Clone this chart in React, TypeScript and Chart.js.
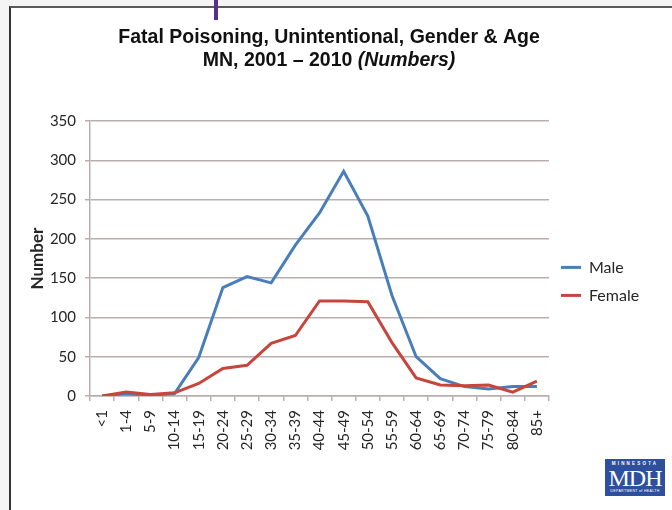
import React, { useEffect, useRef } from 'react';
import { Chart, registerables } from 'chart.js';

Chart.register(...registerables);

const ageGroups = ['<1', '1-4', '5-9', '10-14', '15-19', '20-24', '25-29', '30-34', '35-39', '40-44', '45-49', '50-54', '55-59', '60-64', '65-69', '70-74', '75-79', '80-84', '85+'];
const maleDeaths = [0, 3, 1, 3, 49, 138, 152, 144, 192, 233, 286, 229, 128, 50, 22, 12, 9, 12, 12];
const femaleDeaths = [0, 5, 2, 4, 16, 35, 39, 67, 77, 121, 121, 120, 68, 23, 14, 13, 14, 5, 19];
const yTickValues = [0, 50, 100, 150, 200, 250, 300, 350];

const titleLine1 = 'Fatal Poisoning, Unintentional, Gender & Age';
const titleLine2Plain = 'MN, 2001 \u2013 2010 ';
const titleLine2Italic = '(Numbers)';
const yAxisTitle = 'Number';
const seriesNames = ['Male', 'Female'];

const BLUE = '#4a7ebb';
const RED = '#c8453d';
const GRID = '#b9adad';
const TEXT = '#262626';
const LABEL_FONT = 'Lato, "Open Sans", sans-serif';

const mixedTitlePlugin = {
  id: 'mixedTitle',
  afterDraw(chart: any) {
    const ctx = chart.ctx;
    ctx.save();
    ctx.fillStyle = '#111111';
    ctx.textBaseline = 'middle';
    const cx = 318;
    const plain = 'bold 19.5px "Liberation Sans", Arial, sans-serif';
    const ital = 'italic bold 19.5px "Liberation Sans", Arial, sans-serif';
    ctx.font = plain;
    ctx.textAlign = 'center';
    ctx.fillText(titleLine1, cx, 29);
    const wA = ctx.measureText(titleLine2Plain).width;
    ctx.font = ital;
    const wB = ctx.measureText(titleLine2Italic).width;
    const start = cx - (wA + wB) / 2;
    ctx.textAlign = 'left';
    ctx.font = plain;
    ctx.fillText(titleLine2Plain, start, 52);
    ctx.font = ital;
    ctx.fillText(titleLine2Italic, start + wA, 52);
    ctx.restore();
  },
};

function PoisonChart() {
  const ref = useRef<HTMLCanvasElement | null>(null);
  useEffect(() => {
    let chart: Chart | null = null;
    let cancelled = false;
    const build = () => {
      if (cancelled || !ref.current) return;
      chart = new Chart(ref.current, {
        type: 'line',
        data: {
          labels: ageGroups,
          datasets: [
            { label: seriesNames[0], data: maleDeaths, borderColor: BLUE, backgroundColor: BLUE, borderWidth: 3, pointRadius: 0, tension: 0, order: 1 },
            { label: seriesNames[1], data: femaleDeaths, borderColor: RED, backgroundColor: RED, borderWidth: 3, pointRadius: 0, tension: 0, order: 0 },
          ],
        },
        options: {
          responsive: false,
          animation: false,
          devicePixelRatio: 1,
          layout: { padding: { top: 112, left: 0, right: 1, bottom: 0 } },
          plugins: {
            title: { display: false },
            tooltip: { enabled: false },
            legend: {
              position: 'right',
              align: 'start',
              maxWidth: 98,
              title: { display: true, text: '', padding: { top: 60, bottom: 52 }, font: { size: 12 } },
              labels: {
                usePointStyle: true,
                pointStyle: 'line',
                pointStyleWidth: 20,
                padding: 12,
                color: TEXT,
                font: { family: LABEL_FONT, size: 16 },
                sort: (a: any, b: any) => a.datasetIndex - b.datasetIndex,
              },
            },
          },
          scales: {
            x: {
              type: 'category',
              offset: true,
              grid: { display: true, drawOnChartArea: false, drawTicks: true, tickLength: 5, color: GRID, lineWidth: 1.5, offset: true },
              border: { display: true, color: GRID, width: 1.5 },
              ticks: { minRotation: 90, maxRotation: 90, autoSkip: false, padding: 9, color: TEXT, font: { family: LABEL_FONT, size: 15 } },
              afterFit: (s: any) => { s.height = 114; },
            },
            y: {
              min: 0,
              max: 350,
              grid: { color: GRID, lineWidth: 1.5, tickLength: 5 },
              border: { display: true, color: GRID, width: 1.5 },
              ticks: { padding: 9, color: TEXT, font: { family: LABEL_FONT, size: 15 } },
              afterBuildTicks: (s: any) => { s.ticks = yTickValues.map((v) => ({ value: v })); },
              title: { display: true, text: yAxisTitle, color: TEXT, font: { family: LABEL_FONT, size: 17, weight: 'bold' }, padding: { top: 16, bottom: 0 } },
              afterFit: (s: any) => { s.width = 79; },
            },
          },
        },
        plugins: [mixedTitlePlugin],
      } as any);
    };
    const fontsReady = (document as any).fonts
      ? Promise.all([
          (document as any).fonts.load('15px Lato'),
          (document as any).fonts.load('bold 17px Lato'),
          (document as any).fonts.load('bold 19.5px "Liberation Sans"'),
          (document as any).fonts.load('italic bold 19.5px "Liberation Sans"'),
        ]).catch(() => null)
      : Promise.resolve(null);
    fontsReady.then(build);
    return () => {
      cancelled = true;
      if (chart) chart.destroy();
    };
  }, []);
  return (
    <canvas
      ref={ref}
      width={637}
      height={501}
      style={{ position: 'absolute', left: 11, top: 9, width: 637, height: 501 }}
    />
  );
}

export default function App() {
  return (
    <div style={{ position: 'fixed', left: 0, top: 0, width: 672, height: 510, overflow: 'hidden', background: '#f4f4f4' }}>
      <div
        style={{
          position: 'absolute',
          left: 9,
          top: 6,
          width: 700,
          height: 600,
          background: '#ffffff',
          borderLeft: '2px solid #333333',
          borderTop: '2px solid #5a5a5a',
        }}
      />
      <div style={{ position: 'absolute', left: 214, top: 0, width: 4, height: 20, background: '#55308f' }} />
      <PoisonChart />
      <div
        style={{
          position: 'absolute',
          left: 605,
          top: 459,
          width: 60,
          height: 37,
          background: '#2d4f9e',
          color: '#ffffff',
          fontFamily: '"Liberation Serif", "DejaVu Serif", serif',
          textAlign: 'center',
          overflow: 'hidden',
        }}
      >
        <div style={{ fontSize: 4.5, lineHeight: '5px', marginTop: 2, letterSpacing: 2.2, fontFamily: '"Liberation Sans", sans-serif', fontWeight: 700 }}>MINNESOTA</div>
        <div style={{ fontSize: 24, lineHeight: '22px', letterSpacing: -1, marginTop: 1 }}>MDH</div>
        <div style={{ fontSize: 3.6, lineHeight: '5px', fontFamily: '"Liberation Sans", sans-serif', letterSpacing: 0.3 }}>DEPARTMENT of HEALTH</div>
      </div>
    </div>
  );
}
